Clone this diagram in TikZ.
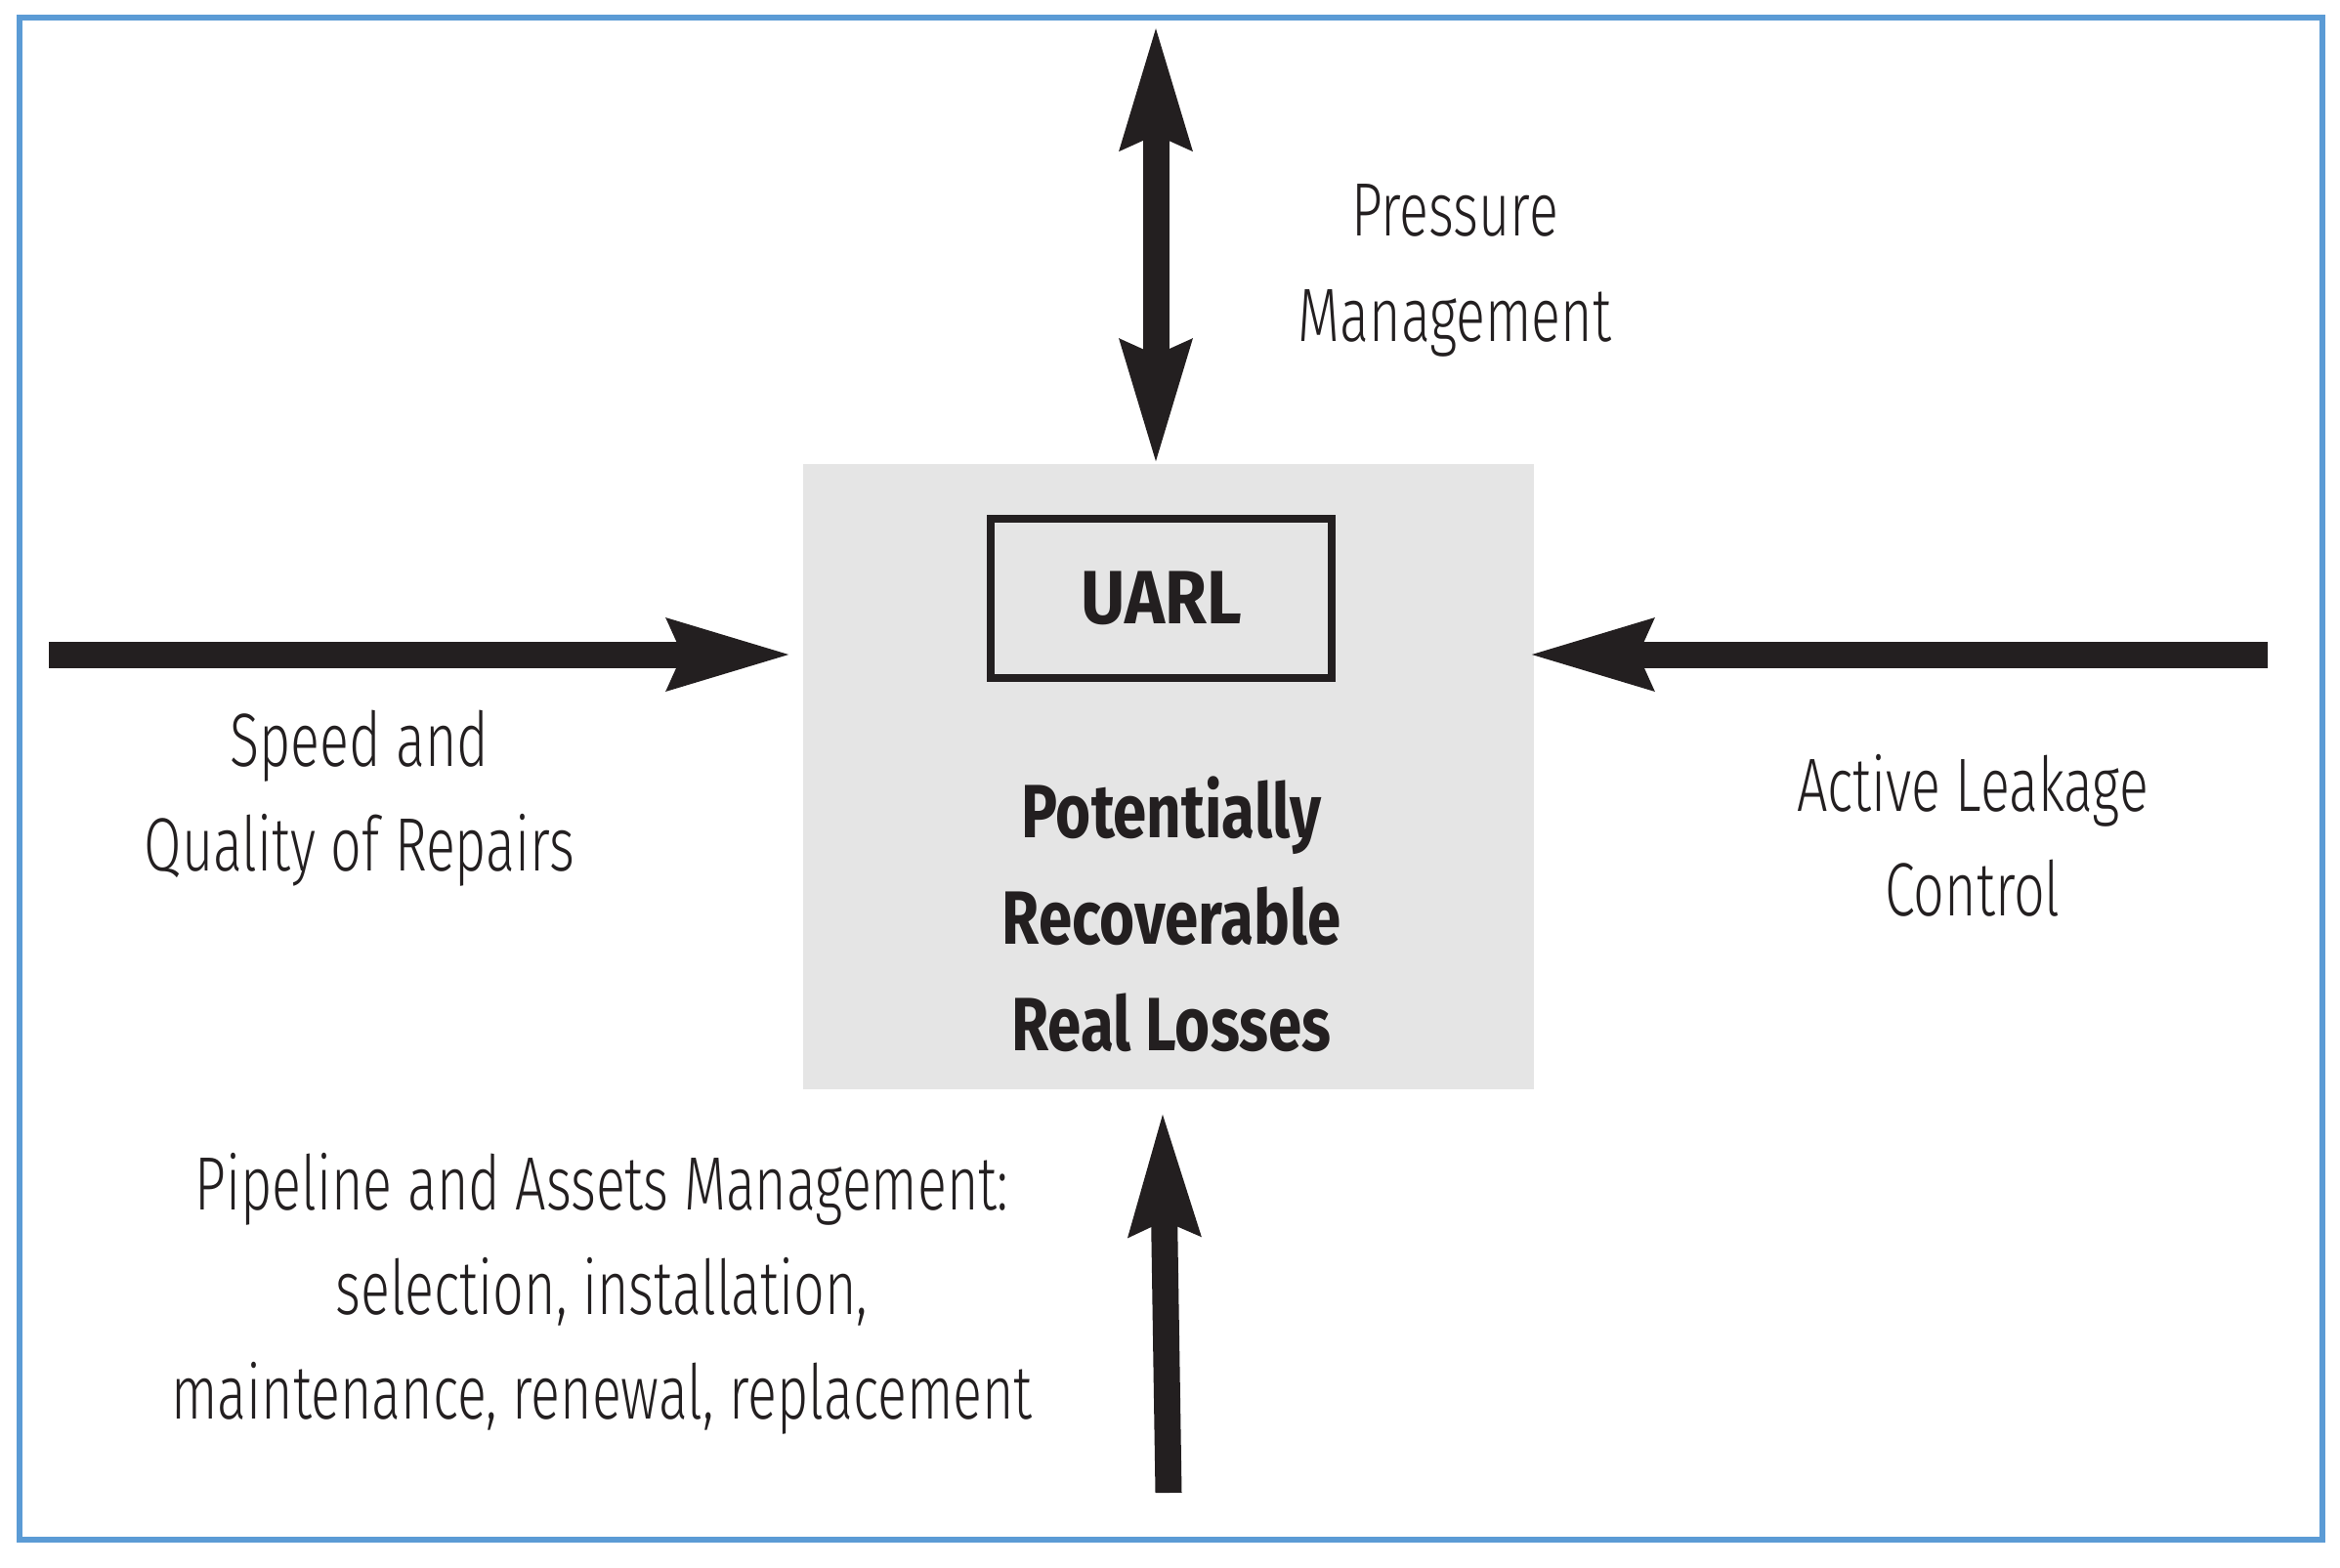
\documentclass[tikz,border=0pt]{standalone}
\usepackage{fontspec}
\setmainfont{Fira Sans}[UprightFont={* Light}, BoldFont={* Bold},
  UprightFeatures={FakeStretch=0.72}, BoldFeatures={FakeStretch=0.80}]
\newfontfamily\uarlfont{Fira Sans}[BoldFeatures={FakeStretch=0.90}]
\usetikzlibrary{arrows.meta, positioning}
\definecolor{framblue}{HTML}{5B9BD5}
\definecolor{ink}{HTML}{231F20}
\tikzset{>={Stealth[length=12.5mm, width=6.8mm, inset=1.2mm]},
  bigarrow/.style={ink, line width=2.7mm, shorten >=-0.75mm},
  label/.style={align=center, font=\fontsize{22}{30.5}\selectfont, text=ink},
  boldlabel/.style={label, font=\fontsize{22}{31}\selectfont\bfseries}}

\begin{document}
\begin{tikzpicture}
  \useasboundingbox (0,0) rectangle (23.95,-16.04);
  \draw[framblue, line width=0.55mm] (0.20,-0.18) rectangle (23.77,-15.76);

  \node[fill=black!10, minimum width=7.48cm, minimum height=6.40cm] (loss) at (11.96,-7.95) {};
  \node[draw=ink, line width=0.8mm, minimum width=3.49cm, minimum height=1.63cm, boldlabel,
    font=\fontsize{22}{31}\selectfont\uarlfont\bfseries] (uarl) at (11.885,-6.125) {UARL};
  \node[boldlabel] (prl) at (11.99,-9.36) {Potentially\\Recoverable\\Real Losses};

  \node[label] (press) at (14.89,-2.77) {Pressure\\Management};
  \node[label] (speed) at (3.68,-8.17) {Speed and\\Quality of Repairs};
  \node[label] (alc) at (20.19,-8.55) {Active Leakage\\Control};
  \node[label] (pipe) at (6.16,-13.24) {Pipeline and Assets Management:\\selection, installation,\\maintenance, renewal, replacement};

  \coordinate (ptop) at (11.83,-0.32);
  \coordinate (pleft) at (0.50,-6.70);
  \coordinate (pright) at (23.21,-6.70);
  \coordinate (pbot) at (11.96,-15.28);

  \draw[bigarrow, shorten <=-0.75mm, <->] (ptop) -- ([yshift=0.5mm]ptop |- loss.north);
  \draw[bigarrow, ->] (pleft) -- ([xshift=-1.7mm]pleft -| loss.west);
  \draw[bigarrow, ->] (pright) -- (pright -| loss.east);
  \draw[bigarrow, ->] (pbot) -- ([xshift=-0.6mm, yshift=-2.8mm]pbot |- loss.south);
\end{tikzpicture}
\end{document}
